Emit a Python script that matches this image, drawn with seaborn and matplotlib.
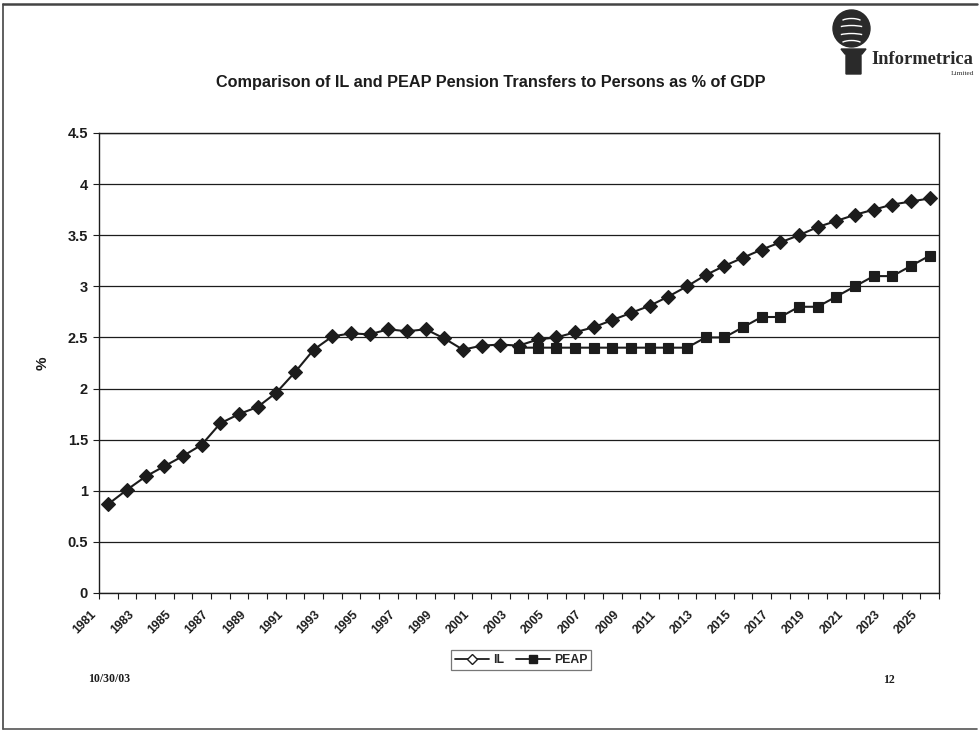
import numpy as np
import pandas as pd
import matplotlib
matplotlib.use("Agg")
import matplotlib.pyplot as plt
from matplotlib.lines import Line2D
from matplotlib.patches import Circle, Polygon, Arc
import seaborn as sns

# ---- data -------------------------------------------------------------
years = list(range(1981, 2026))

il_values = [
    0.87, 1.01, 1.14, 1.24, 1.34, 1.45, 1.66, 1.75, 1.82, 1.96,
    2.16, 2.38, 2.51, 2.54, 2.53, 2.58, 2.56, 2.58, 2.49, 2.38,
    2.42, 2.43, 2.42, 2.48, 2.50, 2.55, 2.60, 2.67, 2.74, 2.81,
    2.90, 3.00, 3.11, 3.20, 3.28, 3.36, 3.43, 3.50, 3.58, 3.64,
    3.70, 3.75, 3.80, 3.83, 3.86,
]

peap_years = list(range(2003, 2026))
peap_values = [
    2.4, 2.4, 2.4, 2.4, 2.4, 2.4, 2.4, 2.4, 2.4, 2.4,
    2.5, 2.5, 2.6, 2.7, 2.7, 2.8, 2.8, 2.9, 3.0, 3.1,
    3.1, 3.2, 3.3,
]

y_ticks = [0, 0.5, 1, 1.5, 2, 2.5, 3, 3.5, 4, 4.5]
y_tick_labels = ["0", "0.5", "1", "1.5", "2", "2.5", "3", "3.5", "4", "4.5"]

title = "Comparison of IL and PEAP Pension Transfers to Persons as % of GDP"
series_names = ["IL", "PEAP"]
footer_date = "10/30/03"
page_number = "12"

# ---- frame ------------------------------------------------------------
il_df = pd.DataFrame({"pos": np.arange(len(years)), "value": il_values})
peap_df = pd.DataFrame({
    "pos": [years.index(y) for y in peap_years],
    "value": peap_values,
})

sns.set_theme(style="white")
plt.rcParams["font.family"] = ["Liberation Sans", "DejaVu Sans"]

W, H = 980, 732
fig = plt.figure(figsize=(W / 100, H / 100), dpi=100)
fig.patch.set_facecolor("white")

left, right, top, bottom = 99, 939, 133, 593
ax = fig.add_axes([left / W, 1 - bottom / H, (right - left) / W, (bottom - top) / H])
ax.set_facecolor("white")

ink = "#1c1c1c"

sns.lineplot(data=il_df, x="pos", y="value", ax=ax, color=ink, lw=1.5,
             marker="D", markersize=7, markerfacecolor=ink,
             markeredgecolor=ink, markeredgewidth=0.8)
sns.lineplot(data=peap_df, x="pos", y="value", ax=ax, color=ink, lw=1.5,
             marker="s", markersize=7, markerfacecolor=ink,
             markeredgecolor=ink, markeredgewidth=0.8)

n = len(years)
ax.set_xlim(-0.5, n - 0.5)
ax.set_ylim(0, 4.5)

# category boundaries carry the tick marks; every other one is labelled
bounds = np.arange(n + 1) - 0.5
xlabels = [str(years[i]) if (i < n and i % 2 == 0) else "" for i in range(n + 1)]
ax.set_xticks(bounds)
ax.set_xticklabels(xlabels, rotation=45, ha="right", fontsize=8.8,
                   fontweight="bold", color=ink)
ax.tick_params(axis="x", direction="out", length=4, width=0.8, color=ink, pad=7,
               bottom=True)
for lbl in ax.get_xticklabels():
    lbl.set_x(lbl.get_position()[0])
ax.set_yticks(y_ticks)
ax.set_yticklabels(y_tick_labels, fontsize=10.5, fontweight="bold", color=ink)
ax.tick_params(axis="y", direction="out", length=4, width=0.8, color=ink, pad=4,
               left=True)

ax.yaxis.grid(True, color=ink, lw=0.9)
ax.xaxis.grid(False)
ax.set_axisbelow(True)
for s in ax.spines.values():
    s.set_visible(True)
    s.set_color(ink)
    s.set_linewidth(1.0)

ax.set_xlabel("")
ax.set_ylabel("%", fontsize=11, fontweight="bold", color=ink)
ax.yaxis.set_label_coords((50 - left) / (right - left), 0.5)

# ---- title ------------------------------------------------------------
fig.text(491 / W, 1 - 82 / H, title, ha="center", va="center",
         fontsize=11.7, fontweight="bold", color=ink)

# ---- legend -----------------------------------------------------------
handles = [
    Line2D([], [], color=ink, lw=1.3, marker="D", markersize=5,
           markerfacecolor="white", markeredgecolor=ink, markeredgewidth=1.0),
    Line2D([], [], color=ink, lw=1.3, marker="s", markersize=6,
           markerfacecolor=ink, markeredgecolor=ink),
]
leg = fig.legend(handles, series_names, loc="center",
                 bbox_to_anchor=(521 / W, 1 - 660 / H), ncol=2,
                 frameon=True, fancybox=False, edgecolor="#555555",
                 handlelength=2.8, handletextpad=0.3, columnspacing=1.0,
                 borderpad=0.35, prop={"size": 8.8, "weight": "bold"})
leg.get_frame().set_linewidth(0.9)

# ---- footer -----------------------------------------------------------
fig.text(88 / W, 1 - 679 / H, footer_date, ha="left", va="center",
         fontsize=8.5, fontweight="bold", family=["Liberation Serif"], color=ink)
fig.text(883 / W, 1 - 680 / H, page_number, ha="left", va="center",
         fontsize=8.5, fontweight="bold", family=["Liberation Serif"], color=ink)

# ---- logo -------------------------------------------------------------
ov = fig.add_axes([0, 0, 1, 1], facecolor="none")
ov.set_xlim(0, W)
ov.set_ylim(H, 0)
ov.axis("off")

logo = "#2a2a2a"
cx, cy, r = 851.5, 28.5, 18.5
ov.add_patch(Circle((cx, cy), r, color=logo, zorder=2))
for dy, w in [(-11, 24), (-4, 34), (4, 34), (11, 24)]:
    ov.add_patch(Arc((cx, cy + dy + 6), w, 10, theta1=200, theta2=340,
                     color="white", lw=1.0, zorder=3))
ov.add_patch(Polygon([(841, 49), (866, 49), (862, 54), (861, 54),
                      (861, 74), (846, 74), (846, 54), (845, 54)],
                     closed=True, color=logo, zorder=2))
ov.text(871, 64, "Informetrica", ha="left", va="baseline", fontsize=13.3,
        fontweight="bold", family=["Liberation Serif"], color=logo)
ov.text(974, 75, "Limited", ha="right", va="baseline", fontsize=5.2,
        family=["Liberation Serif"], color=logo)

# ---- page border ------------------------------------------------------
ov.plot([3, 3], [4, 729], color="#444444", lw=1.2)
ov.plot([3, 977], [4, 4], color="#444444", lw=1.8)
ov.plot([3, 977], [729, 729], color="#555555", lw=1.2)

fig.savefig("out.png", dpi=100, facecolor="white")
